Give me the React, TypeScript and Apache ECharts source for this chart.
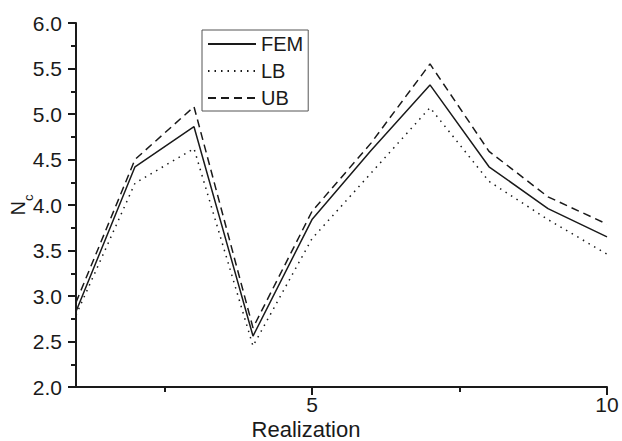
import React, { useEffect, useRef } from "react";
import * as echarts from "echarts";

const realization = [1, 2, 3, 4, 5, 6, 7, 8, 9, 10];
const fem = [2.83, 4.42, 4.86, 2.56, 3.84, 4.6, 5.32, 4.42, 3.96, 3.65];
const lb = [2.79, 4.24, 4.62, 2.45, 3.63, 4.35, 5.07, 4.26, 3.84, 3.46];
const ub = [2.93, 4.5, 5.08, 2.65, 3.93, 4.68, 5.55, 4.59, 4.09, 3.79];
const xLabelValues = [5, 10];
const xMinorTickValues = [2.5, 7.5];

const FONT = "'Liberation Sans', Arial, sans-serif";
const INK = "#1a1a1a";

export default function App() {
  const ref = useRef<HTMLDivElement>(null);
  useEffect(() => {
    if (!ref.current) return;
    const chart = echarts.init(ref.current, null, { renderer: "svg" });
    const pair = (arr: number[]) => realization.map((x, i) => [x, arr[i]]);
    chart.setOption({
      animation: false,
      backgroundColor: "#ffffff",
      textStyle: { fontFamily: FONT, color: INK },
      grid: { left: 76, right: 15, top: 23, bottom: 54, containLabel: false, outerBoundsMode: "none" },
      legend: {
        orient: "vertical",
        left: 202,
        top: 30,
        padding: [4, 5, 3, 5],
        itemGap: 7,
        itemWidth: 48,
        itemHeight: 14,
        borderColor: "#555",
        borderWidth: 1,
        borderRadius: 0,
        itemStyle: { opacity: 0 },
        textStyle: { fontSize: 20, color: INK, fontFamily: FONT },
        data: ["FEM", "LB", "UB"],
      },
      xAxis: [
        {
          type: "value",
          min: 1,
          max: 10,
          axisLine: { show: true, onZero: false, lineStyle: { color: INK, width: 2 } },
          axisTick: { show: true, length: 8, lineStyle: { color: INK, width: 2 }, customValues: xLabelValues },
          axisLabel: { fontSize: 21, color: INK, margin: 7, fontFamily: FONT, customValues: xLabelValues },
          splitLine: { show: false },
        },
        {
          type: "value",
          min: 1,
          max: 10,
          position: "bottom",
          axisLine: { show: false },
          axisTick: { show: true, length: 5, lineStyle: { color: INK, width: 2 }, customValues: xMinorTickValues },
          axisLabel: { show: false },
          splitLine: { show: false },
        },
      ],
      yAxis: {
        type: "value",
        min: 2,
        max: 6,
        interval: 0.5,
        name: "{n|N}{c|c}",
        nameLocation: "middle",
        nameRotate: 90,
        nameGap: 41,
        nameMoveOverlap: false,
        nameTextStyle: {
          rich: {
            n: { fontSize: 20, color: INK, fontFamily: FONT, padding: [0, 0, 7, 0] },
            c: { fontSize: 13, color: INK, fontFamily: FONT, verticalAlign: "bottom" },
          },
        },
        axisLine: { show: true, lineStyle: { color: INK, width: 2 } },
        axisTick: { show: true, length: 8, lineStyle: { color: INK, width: 2 } },
        minorTick: { show: true, splitNumber: 2, length: 5, lineStyle: { color: INK, width: 2 } },
        axisLabel: {
          fontSize: 21,
          color: INK,
          margin: 14,
          fontFamily: FONT,
          formatter: (v: number) => v.toFixed(1),
        },
        splitLine: { show: false },
      },
      graphic: [
        {
          type: "text",
          x: 306,
          y: 418,
          style: { text: "Realization", fontSize: 22, fill: INK, fontFamily: FONT, textAlign: "center", textVerticalAlign: "top" },
        },
      ],
      series: [
        {
          name: "FEM",
          type: "line",
          data: pair(fem),
          symbol: "none",
          lineStyle: { color: INK, width: 1.5, type: "solid" },
          itemStyle: { color: INK },
        },
        {
          name: "LB",
          type: "line",
          data: pair(lb),
          symbol: "none",
          lineStyle: { color: INK, width: 1.5, type: [1.5, 5] },
          itemStyle: { color: INK },
        },
        {
          name: "UB",
          type: "line",
          data: pair(ub),
          symbol: "none",
          lineStyle: { color: INK, width: 1.5, type: [8, 5] },
          itemStyle: { color: INK },
        },
      ],
    });
    return () => chart.dispose();
  }, []);
  return <div ref={ref} style={{ width: 622, height: 441, position: "absolute", left: 0, top: 0 }} />;
}
